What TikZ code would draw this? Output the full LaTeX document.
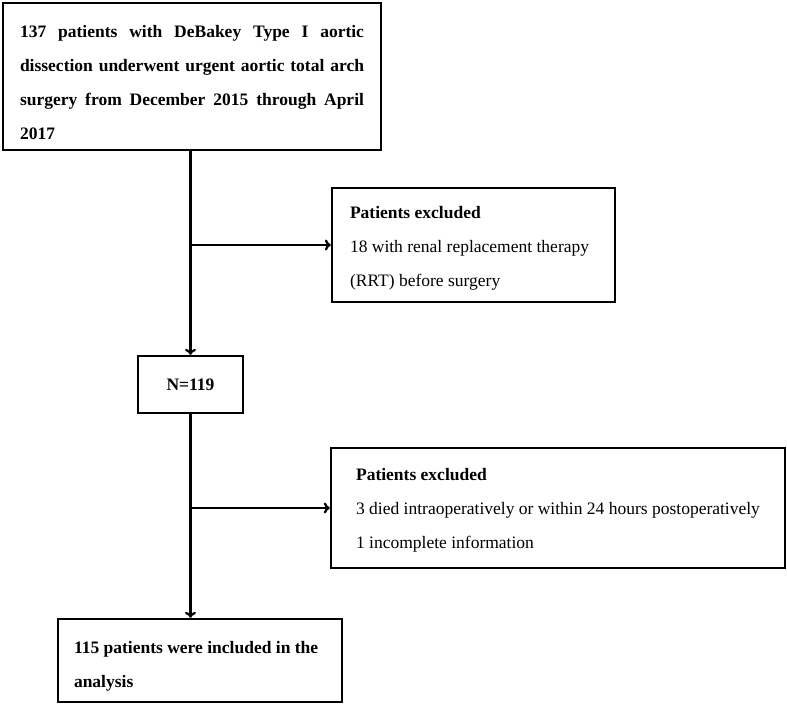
\documentclass[tikz,border=0pt]{standalone}
\usepackage{fontspec}
\setmainfont{Liberation Serif}
\usetikzlibrary{arrows, arrows.meta, positioning}

\begin{document}
\begin{tikzpicture}[x=1pt, y=-1pt,
        every node/.style={draw, line width=2.3pt, inner sep=0pt, align=flush left,
            font=\fontsize{17.5}{34}\selectfont},
        conn/.style={line width=2.3pt, -{To[length=6pt, width=11pt]}}
    ]
        \useasboundingbox (0,0) rectangle (787,706);

        % Boxes of the flow
        \node [minimum width=378pt, minimum height=147pt, text width=344pt, align=justify,
            font=\fontsize{17.5}{34}\selectfont\bfseries] (start) at (192,76.5)
            {\rule{0pt}{24pt}137 patients with DeBakey Type I aortic\linebreak
             dissection underwent urgent aortic total arch\linebreak
             surgery from December 2015 through April\linebreak
             2017};
        \node [minimum width=283pt, minimum height=114pt, text width=247pt, inner xsep=18pt] (excl1) at (473.5,245)
            {\rule{0pt}{18pt}\textbf{Patients excluded}\\18 with renal replacement therapy\\(RRT) before surgery};
        \node [minimum width=105pt, minimum height=57pt, align=center,
            font=\fontsize{17.5}{34}\selectfont\bfseries] (n119) at (190.5,384.5) {N=119};
        \node [minimum width=454pt, minimum height=120pt] (excl2) at (558,508)
            {\rule{0pt}{17pt}\textbf{Patients excluded}\\3 died intraoperatively or within 24 hours postoperatively\\1 incomplete information};
        \node [minimum width=284pt, minimum height=83pt, text width=252pt, inner xsep=16pt,
            font=\fontsize{17.5}{34}\selectfont\bfseries] (final) at (200,660.5)
            {\rule{0pt}{24pt}115 patients were included in the\\analysis};

        % Connectors
        \coordinate (b1) at (n119.north |- excl1.west);
        \coordinate (b2) at (n119.south |- excl2.west);
        \draw[conn] (start.south -| n119.north) -- (n119.north);
        \draw[conn] (b1) -- (excl1.west);
        \draw[conn] (n119.south) -- (n119.south |- final.north);
        \draw[conn] (b2) -- (excl2.west);
    \end{tikzpicture}
\end{document}
